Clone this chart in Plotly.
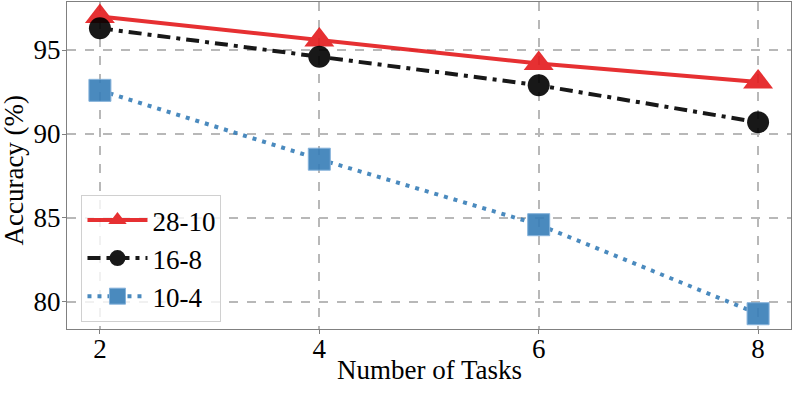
import plotly.graph_objects as go

# data
tasks = [2, 4, 6, 8]
acc_28_10 = [97.0, 95.6, 94.2, 93.1]
acc_16_8 = [96.3, 94.6, 92.9, 90.7]
acc_10_4 = [92.6, 88.5, 84.6, 79.3]

FONT = "Liberation Serif"

fig = go.Figure()

fig.add_trace(go.Scatter(
    x=tasks, y=acc_28_10, name="28-10", mode="lines+markers",
    line=dict(color="#e41a1c", width=4),
    marker=dict(symbol="triangle-up", size=26, color="#e41a1c"),
    opacity=0.9))

fig.add_trace(go.Scatter(
    x=tasks, y=acc_16_8, name="16-8", mode="lines+markers",
    line=dict(color="#000000", width=4, dash="13px,6px,4px,6px"),
    marker=dict(symbol="circle", size=22, color="#000000"),
    opacity=0.9))

fig.add_trace(go.Scatter(
    x=tasks, y=acc_10_4, name="10-4", mode="lines+markers",
    line=dict(color="#377eb8", width=4, dash="4px,6px"),
    marker=dict(symbol="square", size=22, color="#377eb8",
                line=dict(color="rgba(120,170,215,1)", width=1)),
    opacity=0.9))

axis_style = dict(
    showline=True, mirror=True, linecolor="#808080", linewidth=1,
    ticks="outside", ticklen=4, tickcolor="#808080",
    showgrid=True, gridcolor="#b8b8b8", gridwidth=2, griddash="dash",
    zeroline=False, automargin=False,
    tickfont=dict(family=FONT, size=27, color="black"),
)

fig.update_layout(
    width=793, height=397,
    margin=dict(l=67, r=2, t=2, b=68),
    paper_bgcolor="white", plot_bgcolor="white",
    font=dict(family=FONT, color="black"),
    xaxis=dict(range=[1.7, 8.3], tickvals=tasks, ticklabelstandoff=-8, **axis_style),
    yaxis=dict(range=[78.39, 97.86], tickvals=[80, 85, 90, 95], ticklabelstandoff=-4, **axis_style),
    legend=dict(x=0.02, y=0.41, xanchor="left", yanchor="top",
                bgcolor="rgba(255,255,255,0.8)", bordercolor="#d0d0d0", borderwidth=1,
                font=dict(family=FONT, size=27), itemwidth=60, tracegroupgap=0),
    showlegend=True,
)

# axis titles placed as annotations for exact placement
fig.add_annotation(text="Number of Tasks", xref="paper", yref="paper", x=0.5, y=-0.125,
                   xanchor="center", yanchor="middle", showarrow=False,
                   font=dict(family=FONT, size=27, color="black"))
fig.add_annotation(text="Accuracy (%)", xref="paper", yref="paper", x=-0.073, y=0.485,
                   xanchor="center", yanchor="middle", textangle=-90, showarrow=False,
                   font=dict(family=FONT, size=27, color="black"))

# drop the browser's default 8px body margin so the figure sits at the page corner
fig.write_html("out.html", config={"displayModeBar": False},
               post_script="document.body.style.margin='0';")
